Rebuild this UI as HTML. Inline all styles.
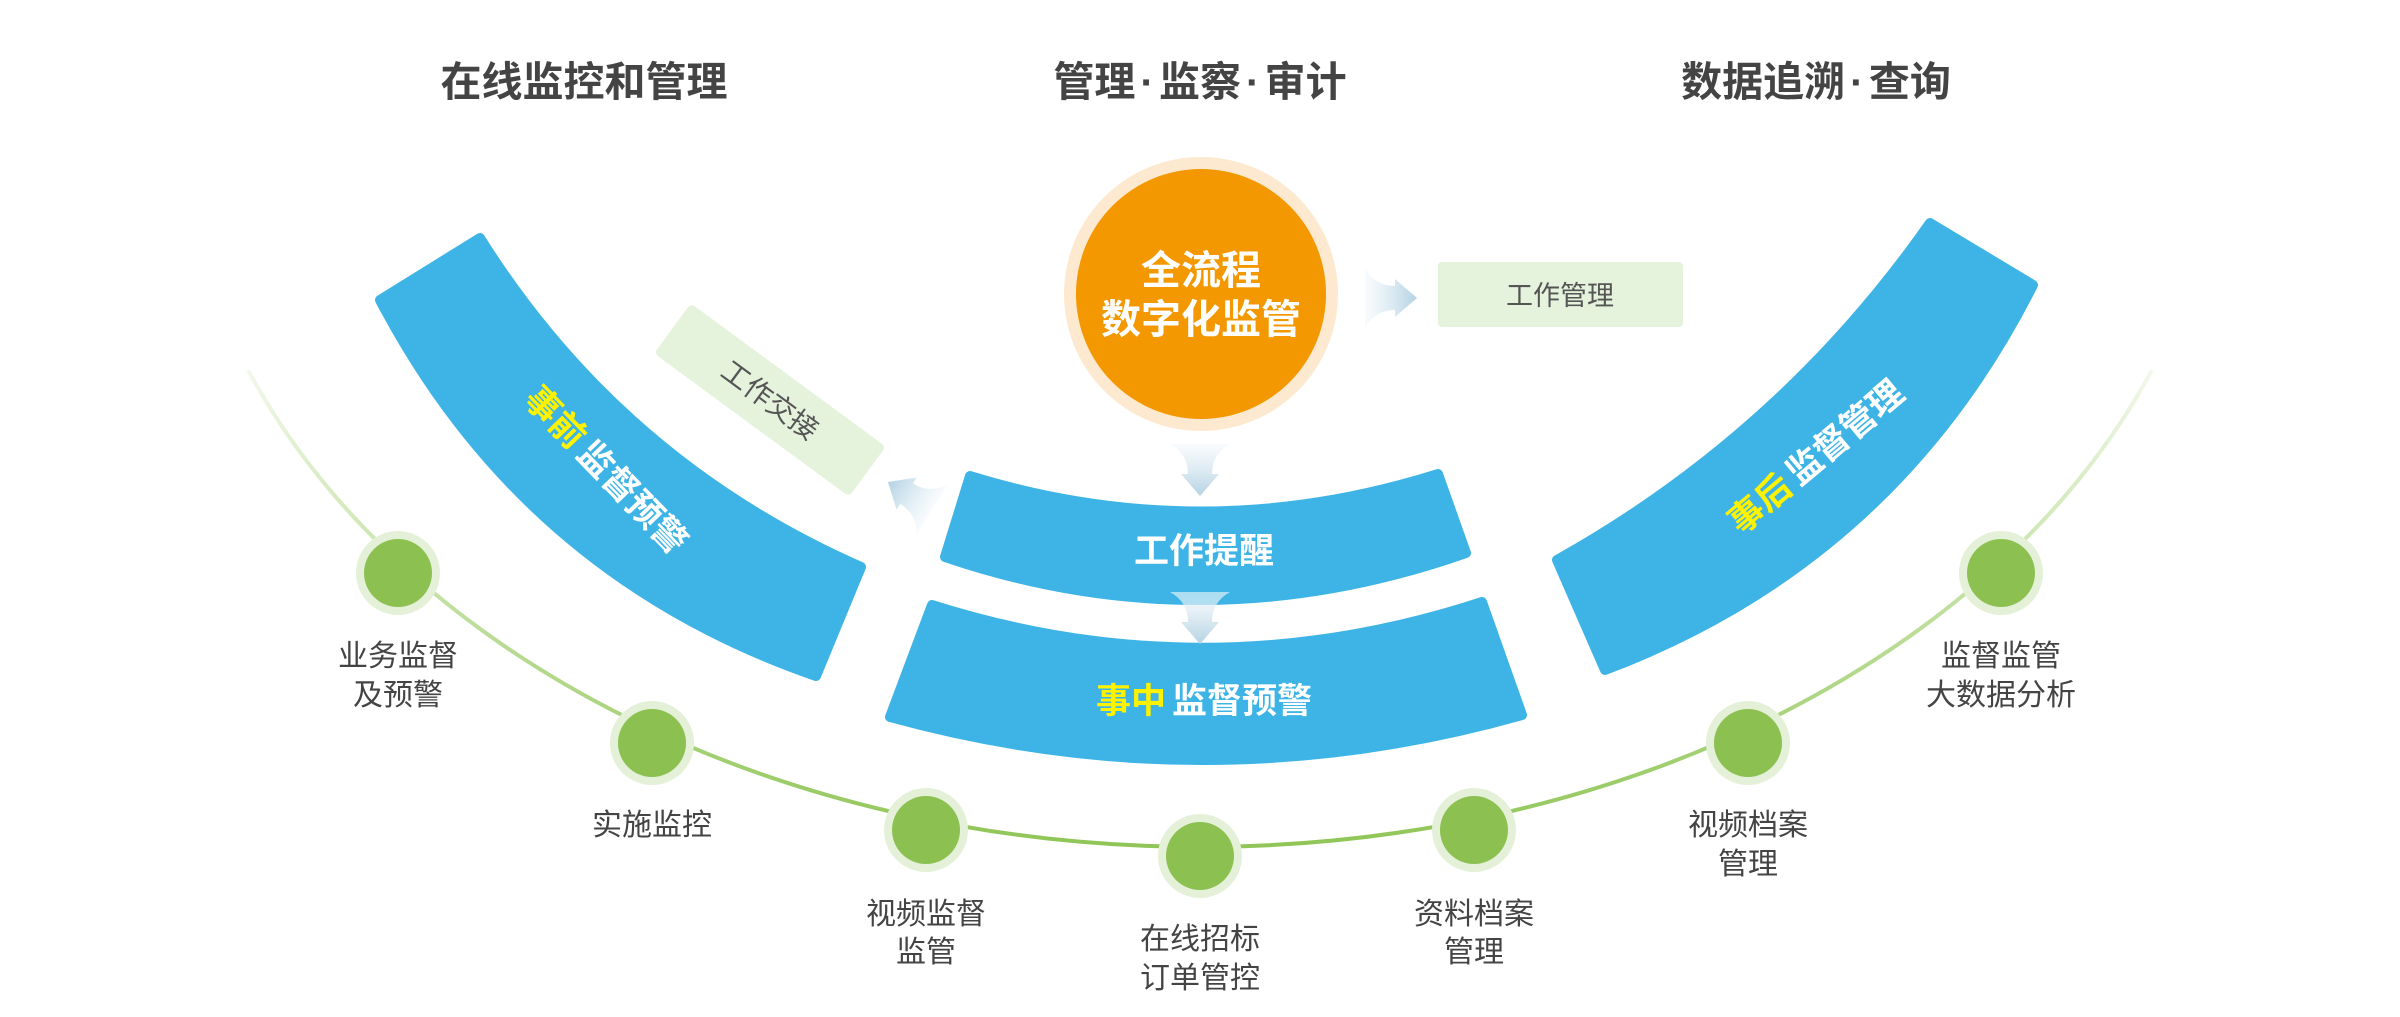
<!DOCTYPE html>
<html><head><meta charset="utf-8"><style>
html,body{margin:0;padding:0;background:#fff;width:2400px;height:1017px;overflow:hidden}
svg{display:block}
text{font-family:"Liberation Sans","Noto Sans CJK SC",sans-serif}
</style></head><body>
<svg width="2400" height="1017" viewBox="0 0 2400 1017" xmlns="http://www.w3.org/2000/svg">
<defs>
<linearGradient id="gl" gradientUnits="userSpaceOnUse" x1="0" y1="360" x2="0" y2="860">
<stop offset="0" stop-color="#f4f9ee"/><stop offset="0.35" stop-color="#cfe7b5"/><stop offset="1" stop-color="#8dc453"/>
</linearGradient>
<linearGradient id="ga" x1="0" y1="0" x2="0" y2="1">
<stop offset="0" stop-color="#f4f9fc" stop-opacity="0.6"/><stop offset="1" stop-color="#b3d2e3"/>
</linearGradient>
<path id="arr" d="M-30,-52 Q-12,-42 -12,-22 L-19,-22 L0,0 L19,-22 L12,-22 Q12,-42 30,-52 Z" fill="url(#ga)"/>
</defs>

<!-- titles -->
<g font-size="41" font-weight="bold" fill="#444" text-anchor="middle">
<text x="584" y="96">在线监控和管理</text>
<text x="1200" y="96">管理<tspan dx="5">·</tspan><tspan dx="5">监察</tspan><tspan dx="5">·</tspan><tspan dx="5">审计</tspan></text>
<text x="1816" y="96">数据追溯<tspan dx="5">·</tspan><tspan dx="5">查询</tspan></text>
</g>

<!-- green arc -->
<path d="M248,370 A1024,755 0 0,0 2152,370" fill="none" stroke="url(#gl)" stroke-width="4"/>

<!-- bands -->
<g fill="#3db4e5" stroke="#3db4e5" stroke-width="10" stroke-linejoin="round">
<path d="M380,300 L480,238 Q620,461 861,567 L816,676 Q524,575 380,300 Z"/>
<path d="M1930,223 L2033,285 Q1894,561 1605,670 L1557,560 Q1782,434 1930,223 Z"/>
<path d="M970,476 Q1204,548 1438,474 L1466,553 Q1204,645 945,557 Z"/>
<path d="M932,605 Q1207,692 1482,602 L1522,715 Q1206,804 890,717 Z"/>
</g>

<!-- circle -->
<circle cx="1201" cy="294" r="137" fill="#fde9cf"/>
<circle cx="1201" cy="294" r="125" fill="#f39800"/>
<g font-size="40" font-weight="bold" fill="#fff" text-anchor="middle">
<text x="1201" y="284">全流程</text>
<text x="1201" y="333">数字化监管</text>
</g>

<!-- arrows -->
<use href="#arr" transform="translate(1200,496)"/>
<use href="#arr" transform="translate(1200,644)"/>
<use href="#arr" transform="translate(1417,298) rotate(-90)"/>
<use href="#arr" transform="translate(888,482) rotate(122)"/>

<!-- boxes -->
<rect x="1438" y="262" width="245" height="65" rx="4" fill="#e5f2dc"/>
<text x="1560" y="305" font-size="27" fill="#555" text-anchor="middle">工作管理</text>
<g transform="translate(770,400) rotate(36.3)">
<rect x="-121" y="-31" width="242" height="62" rx="5" fill="#e5f2dc"/>
<text x="0" y="10" font-size="28" fill="#555" text-anchor="middle">工作交接</text>
</g>

<!-- band texts -->
<g font-size="35" font-weight="bold" text-anchor="middle">
<text x="1204" y="563" fill="#fff">工作提醒</text>
<text x="1204" y="713" fill="#fff"><tspan fill="#fff200">事中</tspan><tspan dx="6">监督预警</tspan></text>
<text transform="translate(606,470) rotate(46)" y="12" fill="#fff"><tspan fill="#fff200">事前</tspan><tspan dx="6">监督预警</tspan></text>
<text transform="translate(1816,457) rotate(-40)" y="12" fill="#fff"><tspan fill="#fff200">事后</tspan><tspan dx="6">监督管理</tspan></text>
</g>

<!-- nodes -->
<g>
<circle cx="398" cy="573" r="42" fill="#e4f1d8"/><circle cx="398" cy="573" r="34" fill="#8cc152"/>
<circle cx="652" cy="743" r="42" fill="#e4f1d8"/><circle cx="652" cy="743" r="34" fill="#8cc152"/>
<circle cx="926" cy="830" r="42" fill="#e4f1d8"/><circle cx="926" cy="830" r="34" fill="#8cc152"/>
<circle cx="1200" cy="856" r="42" fill="#e4f1d8"/><circle cx="1200" cy="856" r="34" fill="#8cc152"/>
<circle cx="1474" cy="830" r="42" fill="#e4f1d8"/><circle cx="1474" cy="830" r="34" fill="#8cc152"/>
<circle cx="1748" cy="743" r="42" fill="#e4f1d8"/><circle cx="1748" cy="743" r="34" fill="#8cc152"/>
<circle cx="2001" cy="573" r="42" fill="#e4f1d8"/><circle cx="2001" cy="573" r="34" fill="#8cc152"/>
</g>

<!-- node labels -->
<g font-size="30" fill="#444" text-anchor="middle">
<text x="398" y="666">业务监督</text><text x="398" y="705">及预警</text>
<text x="652" y="835">实施监控</text>
<text x="926" y="924">视频监督</text><text x="926" y="962">监管</text>
<text x="1200" y="949">在线招标</text><text x="1200" y="988">订单管控</text>
<text x="1474" y="924">资料档案</text><text x="1474" y="962">管理</text>
<text x="1748" y="835">视频档案</text><text x="1748" y="874">管理</text>
<text x="2001" y="666">监督监管</text><text x="2001" y="705">大数据分析</text>
</g>
</svg>
</body></html>
